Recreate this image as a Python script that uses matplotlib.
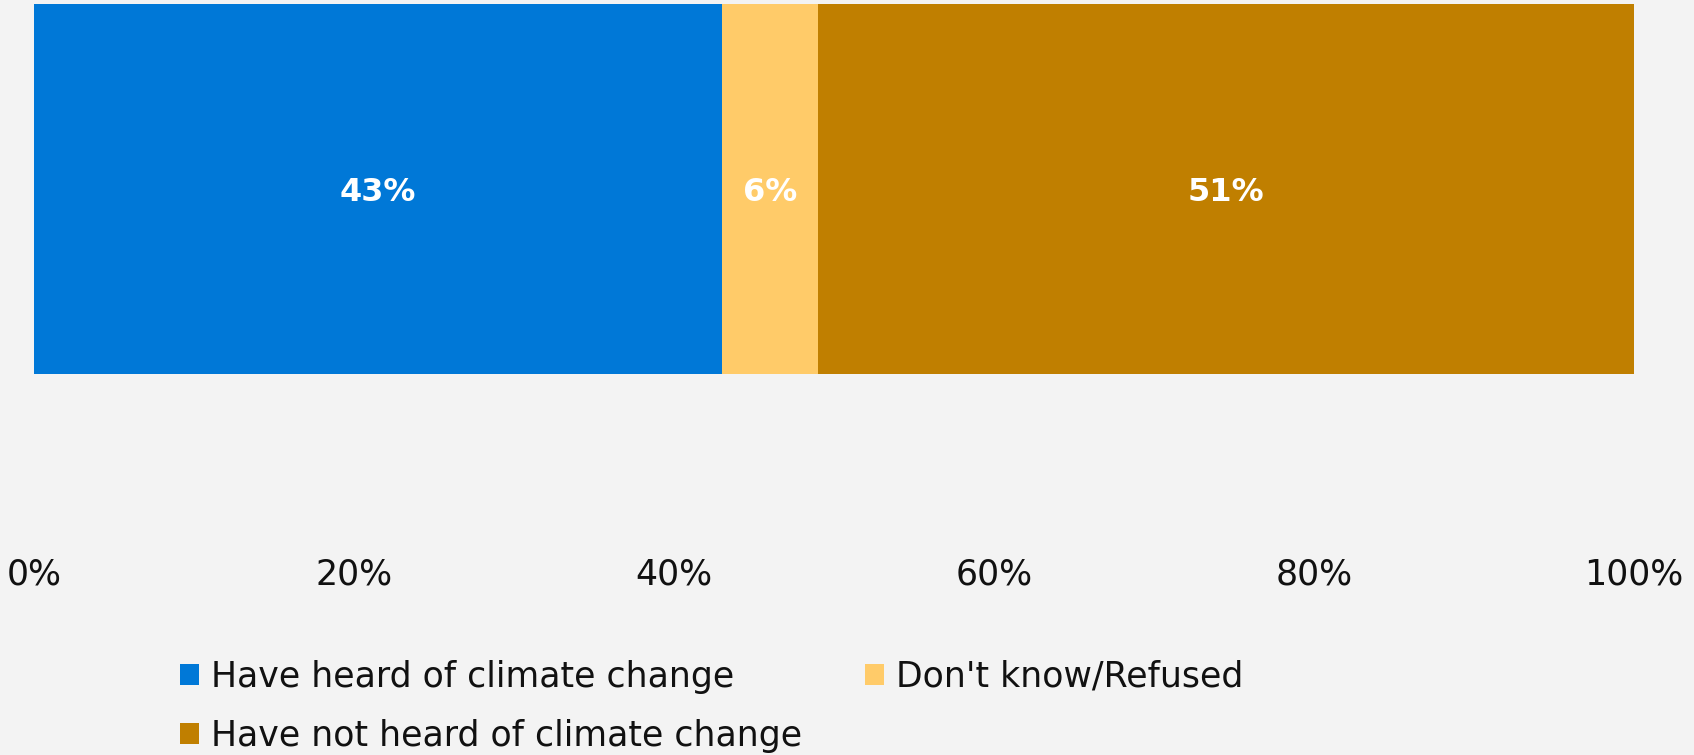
import matplotlib
matplotlib.use("Agg")
import matplotlib.pyplot as plt
from matplotlib.patches import Patch

SURFACE = "#f3f3f3"
INK = "#111111"

categories = ["Have heard of climate change", "Don't know/Refused",
              "Have not heard of climate change"]
shares = [43, 6, 51]
colors = ["#0078d7", "#ffcb69", "#c07f00"]
tick_values = [0, 20, 40, 60, 80, 100]
tick_labels = ["0%", "20%", "40%", "60%", "80%", "100%"]

plt.rcParams["font.family"] = ["DejaVu Sans"]

fig = plt.figure(figsize=(16.94, 7.55), dpi=100, facecolor=SURFACE)
# plot area: bar occupies the upper part, ticks sit below it
ax = fig.add_axes([34 / 1694, 1 - 545 / 755, 1600 / 1694, 541 / 755])
ax.set_facecolor("none")

left = 0
for name, val, col in zip(categories, shares, colors):
    ax.barh(0.658, val, left=left, height=0.684, color=col, label=name)
    ax.text(left + val / 2, 0.652, f"{val}%", ha="center", va="center",
            fontsize=23, fontweight="bold", color="white")
    left += val

ax.set_xlim(0, 100)
ax.set_ylim(0, 1)
ax.set_xticks(tick_values)
ax.set_xticklabels(tick_labels, fontsize=25, color=INK)
ax.tick_params(axis="x", length=0, pad=9)
ax.set_yticks([])
for side in ax.spines.values():
    side.set_visible(False)

handles = [Patch(facecolor=c, edgecolor="none", label=n)
           for n, c in zip(categories, colors)]
# row-major order like the original: two per row
order = [0, 2, 1]
leg = fig.legend([handles[i] for i in order], [categories[i] for i in order],
                 loc="upper left", bbox_to_anchor=(166 / 1694, 1 - 646 / 755),
                 ncol=2, frameon=False, fontsize=25, labelcolor=INK,
                 handlelength=0.55, handleheight=0.55, handletextpad=0.35,
                 columnspacing=1.8, labelspacing=0.72, borderaxespad=0)

fig.savefig("out.png", dpi=100, facecolor=SURFACE)
